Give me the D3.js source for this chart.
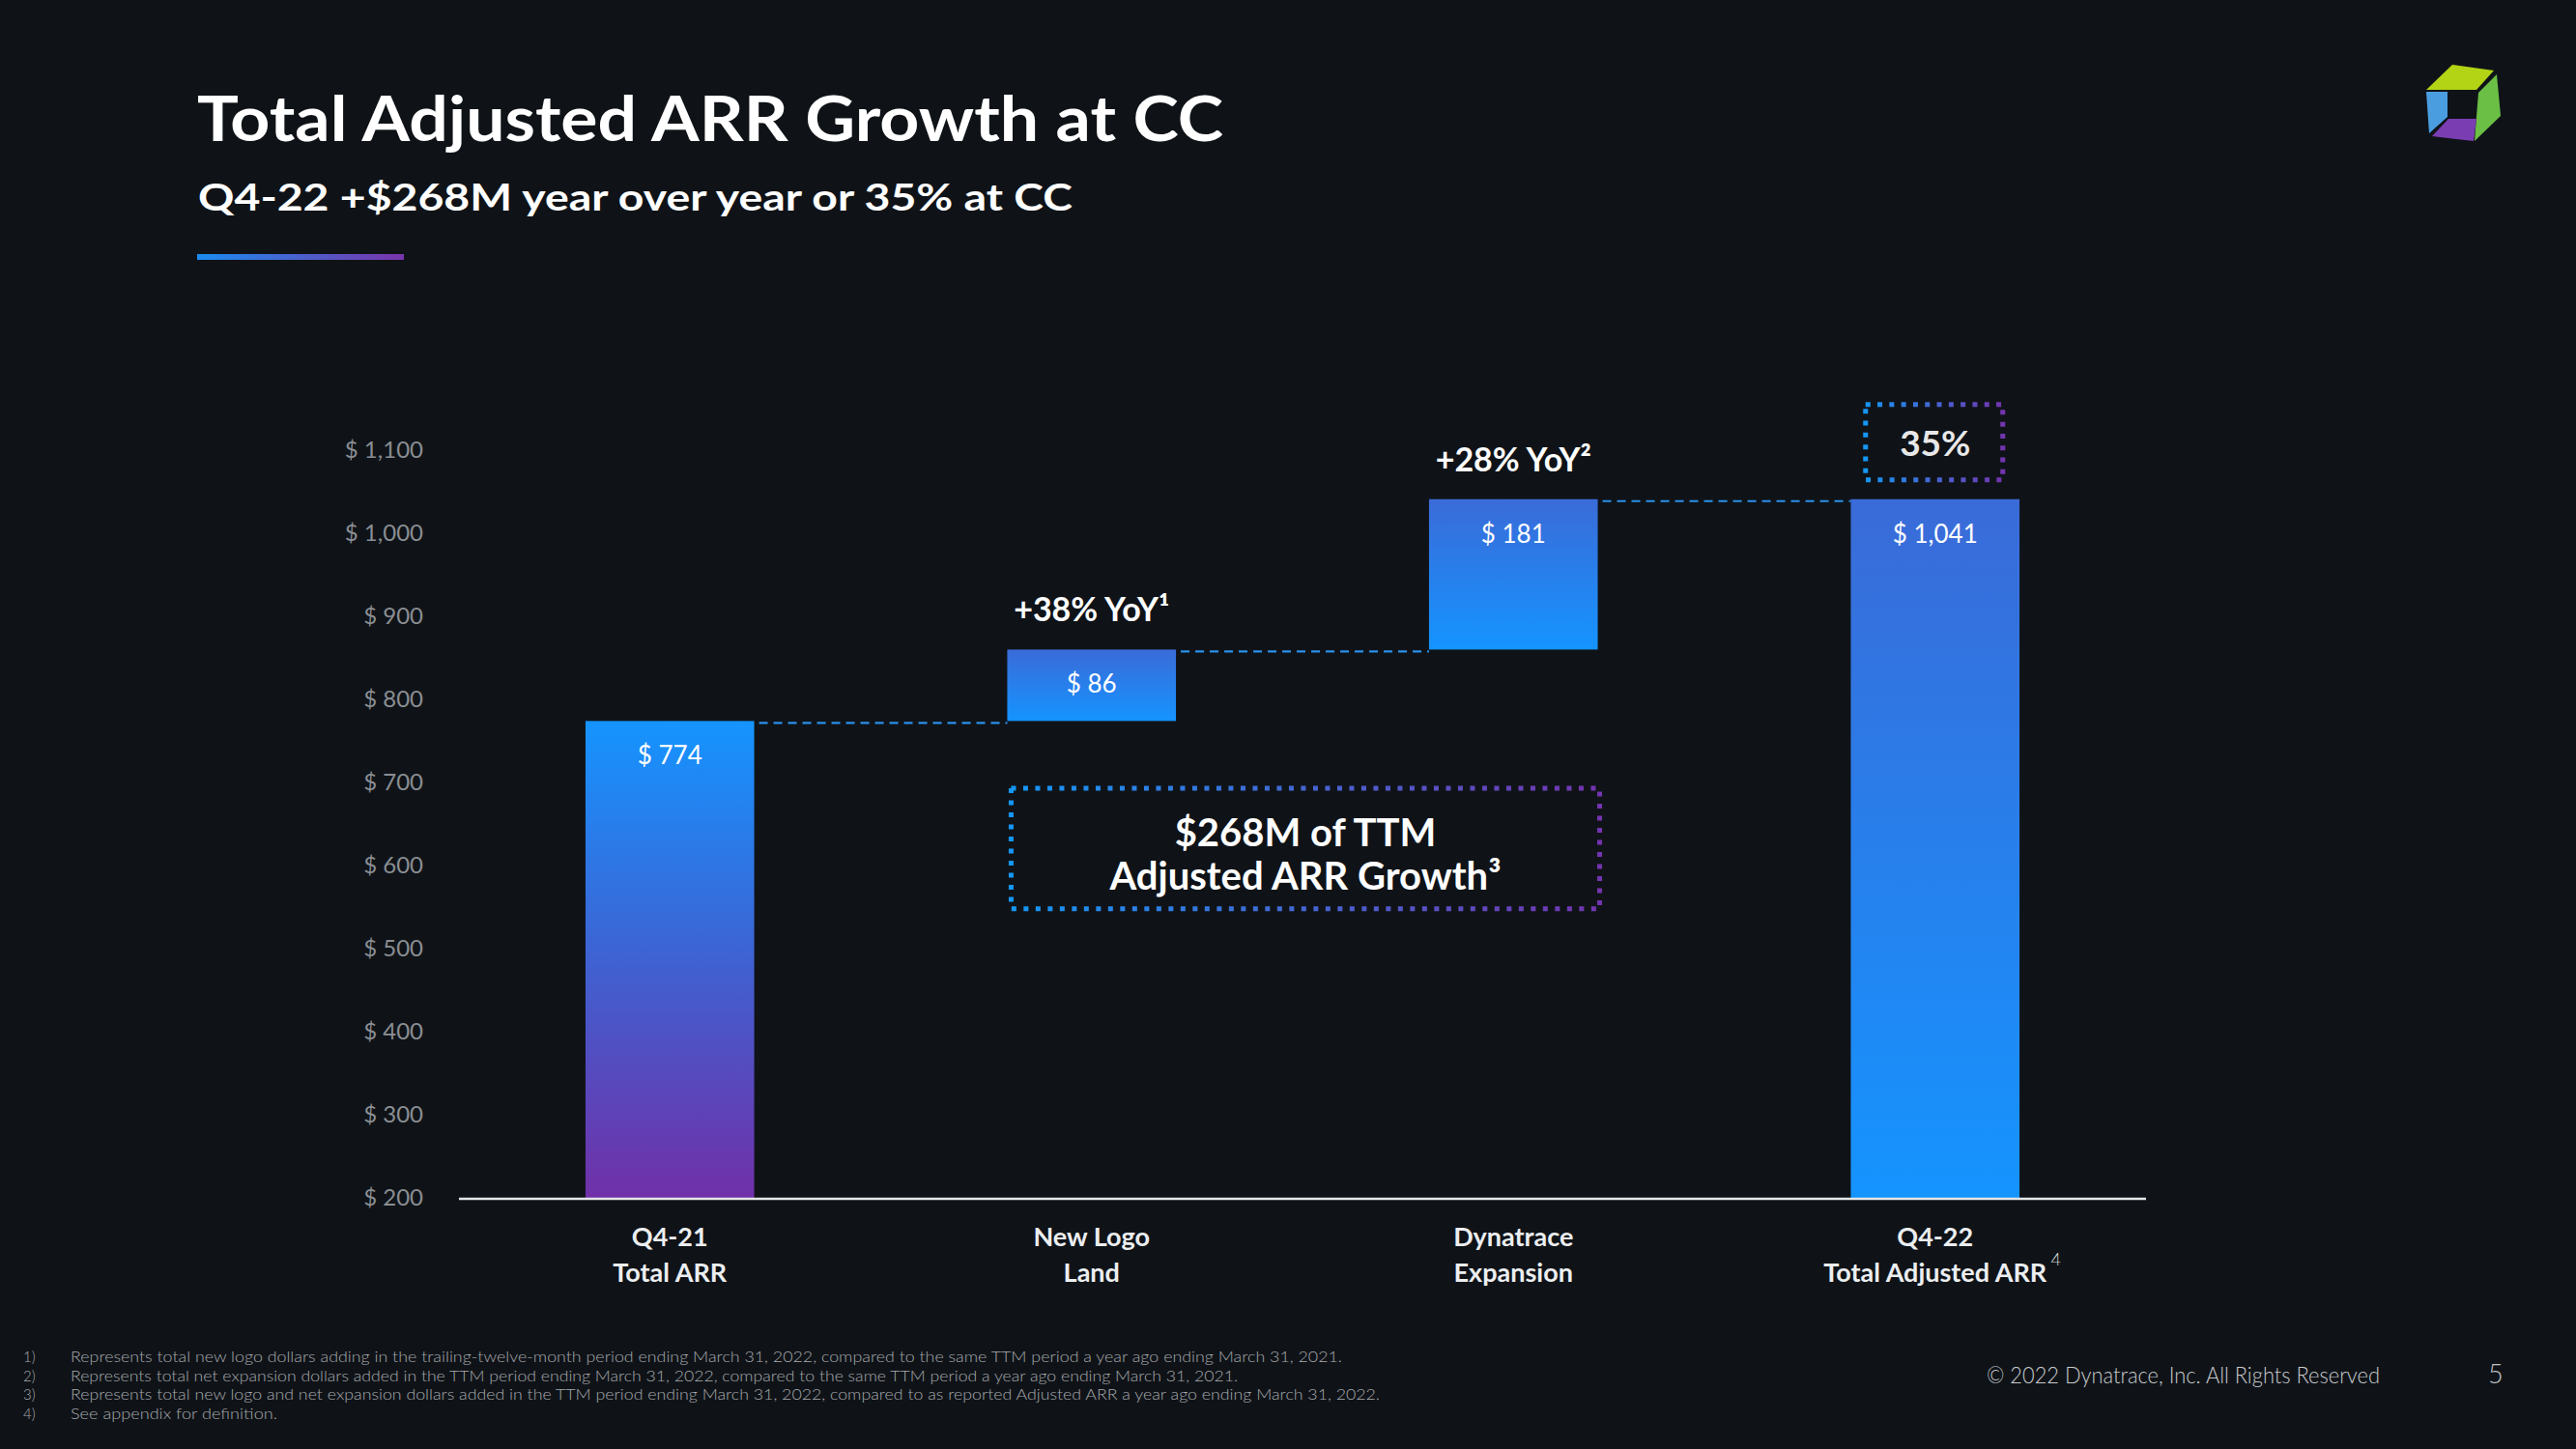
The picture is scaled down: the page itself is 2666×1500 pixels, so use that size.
<!DOCTYPE html>
<html>
<head>
<meta charset="utf-8">
<script src="https://cdn.jsdelivr.net/npm/d3@7"></script>
<style>
  html, body { margin: 0; padding: 0; background: #0f1318; }
  svg { display: block; }
  text { font-family: Lato, "Open Sans", sans-serif; }
</style>
</head>
<body>
<svg id="chart" width="2666" height="1500"></svg>
<script>
// ---------------- data ----------------
const categoryLine1 = ["Q4-21", "New Logo", "Dynatrace", "Q4-22"];
const categoryLine2 = ["Total ARR", "Land", "Expansion", "Total Adjusted ARR"];
const values = [774, 86, 181, 1041];
const barTypes = ["total", "increase", "increase", "total"];
const valueLabels = ["$ 774", "$ 86", "$ 181", "$ 1,041"];
const yoyLabels = [null, "+38% YoY\u00B9", "+28% YoY\u00B2", null];
const yTickValues = [200, 300, 400, 500, 600, 700, 800, 900, 1000, 1100];
const yDomain = [200, 1100];
const growthPct = "35%";
const growthBoxLines = ["$268M of TTM", "Adjusted ARR Growth\u00B3"];
const footnotes = [
  "Represents total new logo dollars adding in the trailing-twelve-month period ending March 31, 2022, compared to the same TTM period a year ago ending March 31, 2021.",
  "Represents total net expansion dollars added in the TTM period ending March 31, 2022, compared to the same TTM period a year ago ending March 31, 2021.",
  "Represents total new logo and net expansion dollars added in the TTM  period ending March 31, 2022, compared to as reported Adjusted ARR a year ago ending March 31, 2022.",
  "See appendix for definition."
];
const footnoteWidths = [1316, 1208, 1355, 214];

// ---------------- build ----------------
const svg = d3.select("#chart");
svg.append("rect").attr("width", 2666).attr("height", 1500).attr("fill", "#0f1318");

const defs = svg.append("defs");
function grad(id, stops, x2, y2) {
  const g = defs.append("linearGradient").attr("id", id)
    .attr("x1", 0).attr("y1", 0).attr("x2", x2).attr("y2", y2);
  stops.forEach(s => g.append("stop").attr("offset", s[0]).attr("stop-color", s[1]));
}
grad("gTotal1", [["0%", "#1594ff"], ["50%", "#3f62d2"], ["100%", "#7030a8"]], 0, 1);
grad("gBlue", [["0%", "#3a6bd8"], ["100%", "#1594ff"]], 0, 1);
grad("gLine", [["0%", "#1a8cf0"], ["100%", "#7a35ab"]], 1, 0);
grad("gBox", [["0%", "#1597f5"], ["100%", "#7434b0"]], 1, 0);

// title block
svg.append("text").attr("x", 204).attr("y", 146)
  .attr("fill", "#ffffff").attr("font-size", 65).attr("font-weight", 700)
  .attr("textLength", 1062).attr("lengthAdjust", "spacingAndGlyphs")
  .text("Total Adjusted ARR Growth at CC");
svg.append("text").attr("x", 205).attr("y", 218)
  .attr("fill", "#ffffff").attr("font-size", 38).attr("font-weight", 700)
  .attr("textLength", 905).attr("lengthAdjust", "spacingAndGlyphs")
  .text("Q4-22 +$268M year over year or 35% at CC");
svg.append("rect").attr("x", 204).attr("y", 263).attr("width", 214).attr("height", 6)
  .attr("fill", "url(#gLine)");

// logo
const logo = svg.append("g");
logo.append("path").attr("d", "M2511,93 L2538,67 L2581,73 L2563,93 Z").attr("fill", "#b3d414");
logo.append("path").attr("d", "M2584,77 L2588,120 L2561,146 L2565,96 Z").attr("fill", "#6bbf45");
logo.append("path").attr("d", "M2511,95 L2533,95 L2533,121 L2514,138 Z").attr("fill", "#4a9ee0");
logo.append("path").attr("d", "M2534,123 L2563,123 L2560,146 L2517,141 Z").attr("fill", "#7a3eb2");

// scales
const x = d3.scaleBand().domain(d3.range(values.length)).range([475, 2221])
  .paddingInner(0.6).paddingOuter(0.3);
const y = d3.scaleLinear().domain(yDomain).range([1240, 466]);

// waterfall extents
let running = 0;
const bars = values.map((v, i) => {
  let lo, hi;
  if (barTypes[i] === "total") { lo = yDomain[0]; hi = v; running = v; }
  else { lo = running; hi = running + v; running = hi; }
  return { i, lo, hi, type: barTypes[i] };
});

// y axis
const yAxis = d3.axisLeft(y).tickValues(yTickValues).tickSize(0).tickPadding(37)
  .tickFormat(d => "$ " + d3.format(",")(d));
const gy = svg.append("g").attr("transform", "translate(475,0)").call(yAxis);
gy.select(".domain").remove();
gy.selectAll("text").attr("fill", "#8a8e93").attr("font-size", 24)
  .attr("font-family", "Lato, sans-serif");

// bars
svg.append("g").selectAll("rect").data(bars).join("rect")
  .attr("x", d => x(d.i)).attr("width", x.bandwidth())
  .attr("y", d => y(d.hi)).attr("height", d => y(d.lo) - y(d.hi))
  .attr("fill", d => d.i === 0 ? "url(#gTotal1)" : "url(#gBlue)");

// connectors
for (let k = 0; k < bars.length - 1; k++) {
  const lvl = bars[k].hi;
  svg.append("line")
    .attr("x1", x(k) + x.bandwidth() + 5).attr("x2", x(k + 1))
    .attr("y1", y(lvl) + 2).attr("y2", y(lvl) + 2)
    .attr("stroke", "#2a90ea").attr("stroke-width", 2.2)
    .attr("stroke-dasharray", "9,6");
}

// x axis line
svg.append("line").attr("x1", 475).attr("x2", 2221).attr("y1", y(yDomain[0]) + 1).attr("y2", y(yDomain[0]) + 1)
  .attr("stroke", "#e4e6e8").attr("stroke-width", 2.5);

// x axis labels
const xAxis = d3.axisBottom(x).tickSize(0).tickFormat(() => "");
const gx = svg.append("g").attr("transform", "translate(0,1240)").call(xAxis);
gx.select(".domain").remove();
gx.selectAll(".tick").each(function (d) {
  const t = d3.select(this).select("text").text(null)
    .attr("fill", "#eceef0").attr("font-size", 27).attr("font-weight", 700)
    .attr("font-family", "Lato, sans-serif").attr("y", 0).attr("dy", null);
  t.append("tspan").attr("x", 0).attr("y", 50).text(categoryLine1[d]);
  t.append("tspan").attr("x", 0).attr("y", 87).text(categoryLine2[d]);
  if (d === values.length - 1) {
    d3.select(this).append("text").attr("x", 125).attr("y", 70)
      .attr("fill", "#d8d8d8").attr("font-size", 18).attr("font-weight", 300)
      .attr("font-family", "Lato, sans-serif").text("4");
  }
});

// value labels
svg.append("g").selectAll("text").data(bars).join("text")
  .attr("x", d => x(d.i) + x.bandwidth() / 2)
  .attr("y", d => y(d.hi) + 45)
  .attr("text-anchor", "middle").attr("fill", "#ffffff")
  .attr("font-size", 26)
  .text(d => valueLabels[d.i]);

// yoy labels
svg.append("g").selectAll("text").data(bars.filter(d => yoyLabels[d.i])).join("text")
  .attr("x", d => x(d.i) + x.bandwidth() / 2)
  .attr("y", d => y(d.hi) - 29)
  .attr("text-anchor", "middle").attr("fill", "#ffffff")
  .attr("font-size", 34).attr("font-weight", 700)
  .text(d => yoyLabels[d.i]);

// 35% box
const last = bars[bars.length - 1];
const bcx = x(last.i) + x.bandwidth() / 2;
const bBottom = y(last.hi) - 20;
svg.append("rect").attr("x", bcx - 72).attr("y", bBottom - 78).attr("width", 142).attr("height", 78)
  .attr("fill", "none").attr("stroke", "url(#gBox)").attr("stroke-width", 5)
  .attr("stroke-dasharray", "5,7.3");
svg.append("text").attr("x", bcx).attr("y", bBottom - 25).attr("text-anchor", "middle")
  .attr("fill", "#e8e8e8").attr("font-size", 37).attr("font-weight", 700).text(growthPct);

// growth box
const gx0 = x(1) + 4, gx1 = x(2) + x.bandwidth() + 2;
const gy0 = y(693), gy1 = y(548);
svg.append("rect").attr("x", gx0).attr("y", gy0).attr("width", gx1 - gx0).attr("height", gy1 - gy0)
  .attr("fill", "none").attr("stroke", "url(#gBox)").attr("stroke-width", 5)
  .attr("stroke-dasharray", "5,7.5");
growthBoxLines.forEach((s, k) => {
  svg.append("text").attr("x", (gx0 + gx1) / 2).attr("y", gy0 + 60 + k * 45)
    .attr("text-anchor", "middle").attr("fill", "#ffffff")
    .attr("font-size", 40).attr("font-weight", 700).text(s);
});

// footnotes
footnotes.forEach((s, k) => {
  const yy = 1410 + k * 19.7;
  svg.append("text").attr("x", 24).attr("y", yy).attr("fill", "#a7a9ac")
    .attr("font-size", 15).attr("font-weight", 300).text((k + 1) + ")");
  svg.append("text").attr("x", 73).attr("y", yy).attr("fill", "#a7a9ac")
    .attr("font-size", 15).attr("font-weight", 300)
    .attr("textLength", footnoteWidths[k]).attr("lengthAdjust", "spacingAndGlyphs")
    .text(s);
});

// footer
svg.append("text").attr("x", 2056).attr("y", 1432).attr("fill", "#c8cacc")
  .attr("font-size", 23).attr("font-weight", 300)
  .attr("textLength", 407).attr("lengthAdjust", "spacingAndGlyphs")
  .text("\u00A9 2022 Dynatrace, Inc. All Rights Reserved");
svg.append("text").attr("x", 2575).attr("y", 1432).attr("fill", "#bfc1c3")
  .attr("font-size", 27).attr("font-weight", 300).text("5");
</script>
</body>
</html>
